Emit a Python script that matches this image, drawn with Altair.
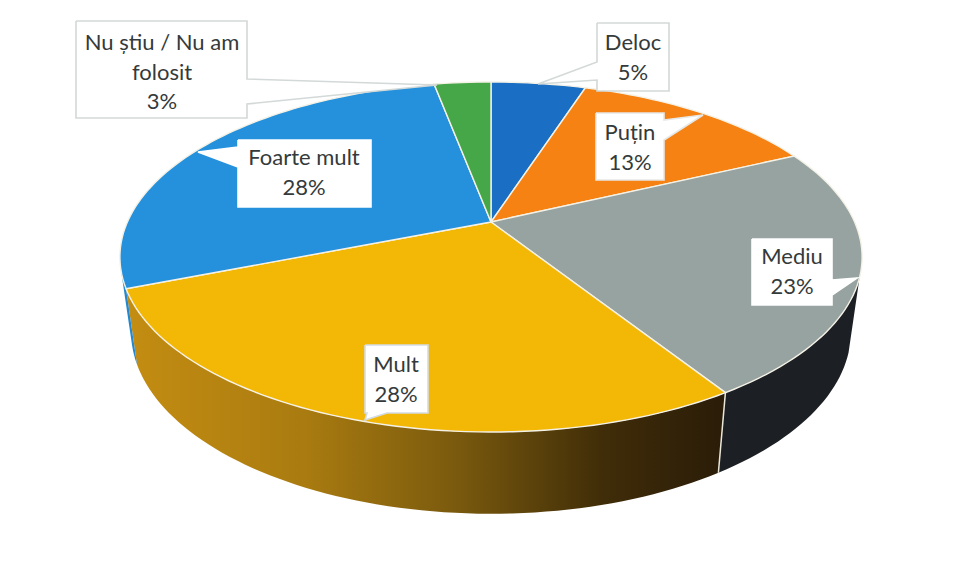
import math
import altair as alt
import pandas as pd

categories = ["Deloc", "Puțin", "Mediu", "Mult", "Foarte mult", "Nu știu / Nu am folosit"]
values = [5, 13, 23, 28, 28, 3]
colors = ["#1a6fc4", "#f58212", "#97a3a0", "#f3b706", "#2591dc", "#45a748"]
label_lines = [["Deloc", "5%"], ["Puțin", "13%"], ["Mediu", "23%"], ["Mult", "28%"],
               ["Foarte mult", "28%"], ["Nu știu / Nu am", "folosit", "3%"]]
label_centers = [(633, 43, 30), (630, 133, 30), (792, 257, 30), (396, 365, 30),
                 (304, 158, 30), (162, 43, 29.5)]
boxes = [(597, 23, 669, 91), (596, 113, 664, 180), (752, 239, 832, 305),
         (365, 345, 428, 413), (238, 140, 371, 207), (76, 21, 247, 118)]
tails = [[(597, 62), (538, 84), (597, 80)], [(664, 120), (703, 115), (664, 140)],
         [(832, 280), (857, 278), (832, 295)], [(367, 413), (365, 420), (387, 413)],
         [(238, 147), (198, 152), (238, 167)], [(247, 79), (437, 85), (247, 104)]]
box_strokes = ["#d3d9d8", "#e6e8e8", "#ffffff", "#d3dbe6", "#ffffff", "#d3d9d8"]
mult_wall_stops = [("#c48d12", 0), ("#a97b10", 0.3), ("#7a5a0e", 0.55), ("#3f2c08", 0.8), ("#2a1c08", 1)]

# perspective of the pie: reference-pixel geometry
CX = 491
TOP = dict(cy=222, a=363.6, b=168, k=0.2)
BOT = dict(cy=295, a=352.7, b=175, k=0.2)
WALL_FROM, WALL_TO = 108, 254


def rim(t, g):
    r = math.radians(t)
    u, v = math.sin(r), math.cos(r)
    d = 1 + g["k"] * v
    return CX + g["a"] * u / d, g["cy"] - g["b"] * v / d


def arc(a, b, g):
    n = max(2, int(abs(b - a) / 1.5) + 2)
    return [rim(a + (b - a) * i / (n - 1), g) for i in range(n)]


def frame(name, pts):
    return pd.DataFrame({"x": [p[0] for p in pts], "y": [p[1] for p in pts],
                         "o": range(len(pts)), "name": name})


xs = alt.Scale(domain=[8, 955], nice=False, zero=False)
ys = alt.Scale(domain=[574, 8], nice=False, zero=False)


def enc(ch):
    return ch.encode(x=alt.X("x:Q", scale=xs, axis=None), y=alt.Y("y:Q", scale=ys, axis=None),
                     order="o:O", detail="name:N")


total = sum(values)
cum = [0]
for v in values:
    cum.append(cum[-1] + v)
angles = [c / total * 360 for c in cum]

layers = []
# side wall
wall_fill = {
    "Mediu": "#1c1f24",
    "Mult": alt.LinearGradient(gradient="linear", x1=0, x2=1, y1=0, y2=0,
                               stops=[alt.GradientStop(color=c, offset=o) for c, o in mult_wall_stops]),
    "Foarte mult": "#2388cf",
}
for i, cat in enumerate(categories):
    a, b = max(angles[i], WALL_FROM), min(angles[i + 1], WALL_TO)
    if b <= a:
        continue
    pts = arc(a, b, TOP) + arc(b, a, BOT)
    layers.append(enc(alt.Chart(frame(cat, pts)).mark_line(filled=True, fill=wall_fill[cat], strokeWidth=0)))

# separator on the wall between Mediu and Mult
sep = angles[3]
layers.append(enc(alt.Chart(frame("sep", [rim(sep, TOP), rim(sep, BOT)])).mark_line(color="#e9e6da", strokeWidth=1.5)))

# top slices
for i, cat in enumerate(categories):
    pts = [(CX, TOP["cy"])] + arc(angles[i], angles[i + 1], TOP) + [(CX, TOP["cy"])]
    layers.append(enc(alt.Chart(frame(cat, pts)).mark_line(filled=True, fill=colors[i], stroke="#f4f1e6", strokeWidth=1.4)))

# callouts
for i, cat in enumerate(categories):
    x0, y0, x1, y1 = boxes[i]
    t = tails[i]
    if t[0][0] == x0 and x0 == t[2][0]:
        pts = [(x0, y0), (x1, y0), (x1, y1), (x0, y1), t[2], t[1], t[0], (x0, y0)]
    elif t[0][0] == x1:
        pts = [(x0, y0), (x1, y0), t[0], t[1], t[2], (x1, y1), (x0, y1), (x0, y0)]
    else:
        pts = [(x0, y0), (x1, y0), (x1, y1), t[2], t[1], t[0], (x0, y1), (x0, y0)]
    layers.append(enc(alt.Chart(frame(cat, pts)).mark_line(filled=True, fill="#ffffff", stroke=box_strokes[i], strokeWidth=1.6)))

# text
rows = []
for lines, (cx, cy, dy) in zip(label_lines, label_centers):
    for j, line in enumerate(lines):
        rows.append({"x": cx, "y": cy + j * dy, "t": line})
layers.append(alt.Chart(pd.DataFrame(rows)).mark_text(font="Lato", fontSize=22, color="#343a3a").encode(
    x=alt.X("x:Q", scale=xs, axis=None), y=alt.Y("y:Q", scale=ys, axis=None), text="t:N"))

chart = alt.layer(*layers).properties(width=947, height=566, padding=0, background="#ffffff").configure_view(stroke=None)
chart.save("out.html", embed_options={"renderer": "svg", "actions": False})
